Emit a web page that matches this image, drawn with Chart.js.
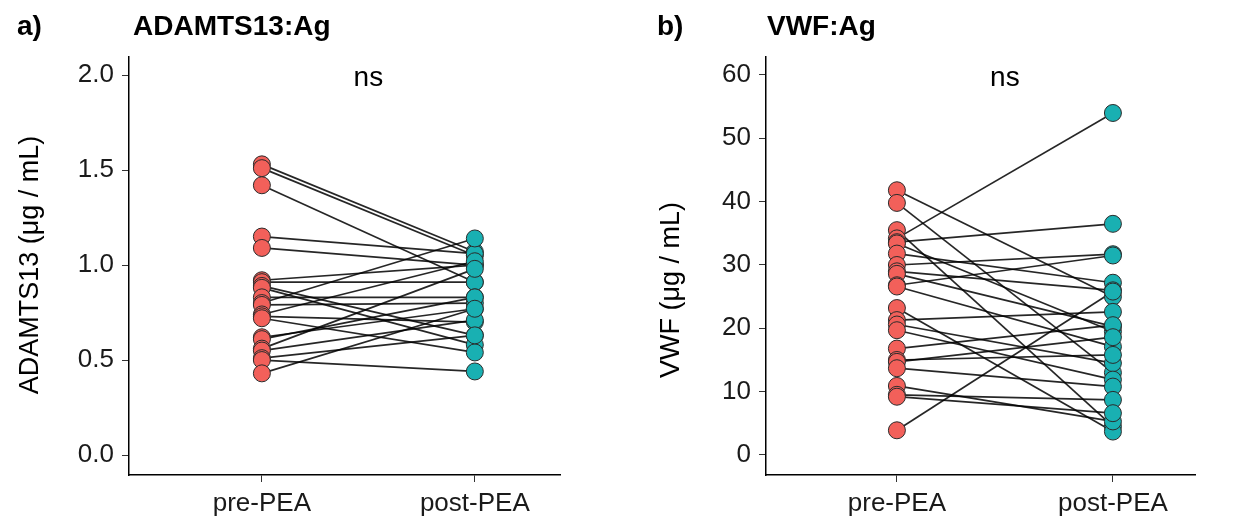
<!DOCTYPE html>
<html>
<head>
<meta charset="utf-8">
<title>ADAMTS13:Ag and VWF:Ag, pre- vs post-PEA</title>
<script src="https://cdn.jsdelivr.net/npm/chart.js@4.4.1/dist/chart.umd.min.js"></script>
<style>
    html, body { margin: 0; padding: 0; background: #fff; }
    #wrap { position: relative; width: 1247px; height: 528px; }
    #panelA { position: absolute; left: 0; top: 0; }
    #panelB { position: absolute; left: 620px; top: 0; }
</style>
</head>
<body>
<div id="wrap">
    <canvas id="panelA" width="620" height="528"></canvas>
    <canvas id="panelB" width="627" height="528"></canvas>
</div>
<script>
    // groups on the x axis
    var groups = ['pre-PEA', 'post-PEA'];

    // ADAMTS13 antigen (ug/mL), one entry per patient, paired
    var adamtsPre  = [1.53, 1.51, 1.42, 1.15, 1.09, 0.92, 0.91, 0.89, 0.88, 0.83, 0.80,
                      0.79, 0.74, 0.73, 0.72, 0.62, 0.61, 0.56, 0.55, 0.51, 0.50, 0.43];
    var adamtsPost = [1.07, 1.05, 0.91, 1.06, 1.00, 1.00, 0.91, 0.63, 0.58, 0.83, 1.14,
                      0.80, 1.02, 0.70, 0.54, 0.77, 0.83, 0.98, 0.71, 0.63, 0.44, 0.77];

    // VWF antigen (ug/mL), paired
    var vwfPre  = [41.8, 39.8, 35.5, 34.2, 33.6, 33.4, 31.8, 30.0, 29.0, 28.6, 26.8, 26.6,
                   23.2, 21.3, 20.6, 19.7, 16.8, 15.0, 14.7, 13.7, 10.9, 9.5, 9.2, 3.9];
    var vwfPost = [25.0, 13.0, 4.5, 54.0, 36.5, 19.5, 27.2, 31.7, 26.0, 20.3, 31.5, 17.1,
                   3.7, 22.6, 14.5, 11.9, 20.5, 15.8, 18.6, 10.8, 5.3, 8.7, 6.6, 25.8];

    var adamtsTicks = [0, 0.5, 1.0, 1.5, 2.0];
    var vwfTicks = [0, 10, 20, 30, 40, 50, 60];

    var FONT = '"Liberation Sans", Arial, sans-serif';
    var RED = '#F2605A';
    var TEAL = '#19B0B2';

    Chart.defaults.font.family = FONT;
    Chart.defaults.color = '#1a1a1a';

    // panel letter, bold title, rotated y title and the "ns" label
    var panelText = {
        id: 'panelText',
        afterDraw: function (chart, args, opts) {
            var ctx = chart.ctx;
            ctx.save();
            ctx.fillStyle = '#000';
            ctx.textBaseline = 'middle';
            ctx.textAlign = 'left';
            ctx.font = 'bold 28px ' + FONT;
            ctx.fillText(opts.tag, opts.tagX, 27);
            ctx.fillText(opts.title, chart.chartArea.left + opts.titleDx, 27);

            ctx.font = '28px ' + FONT;
            ctx.textAlign = 'center';
            ctx.fillText('ns', chart.scales.x.getPixelForValue(1.5),
                         chart.scales.y.getPixelForValue(opts.nsY));

            ctx.font = '27px ' + FONT;
            ctx.translate(opts.yTitleX, opts.yTitleY);
            ctx.rotate(-Math.PI / 2);
            ctx.fillText(opts.yTitle, 0, 0);
            ctx.restore();
        }
    };

    function buildPanel(canvasId, p) {
        var datasets = [
            {
                type: 'scatter',
                data: p.pre.map(function (v) { return { x: 1, y: v }; }),
                backgroundColor: RED,
                borderColor: '#2b2b2b',
                borderWidth: 1,
                pointRadius: 8.5,
                order: 0
            },
            {
                type: 'scatter',
                data: p.post.map(function (v) { return { x: 2, y: v }; }),
                backgroundColor: TEAL,
                borderColor: '#2b2b2b',
                borderWidth: 1,
                pointRadius: 8.5,
                order: 0
            }
        ];
        // one segment per patient
        p.pre.forEach(function (v, i) {
            datasets.push({
                type: 'line',
                data: [{ x: 1, y: v }, { x: 2, y: p.post[i] }],
                borderColor: 'rgba(0,0,0,0.85)',
                borderWidth: 1.7,
                pointRadius: 0,
                fill: false,
                order: 1
            });
        });

        return new Chart(document.getElementById(canvasId), {
            type: 'scatter',
            data: { datasets: datasets },
            plugins: [panelText],
            options: {
                responsive: false,
                animation: false,
                events: [],
                layout: { padding: { left: 0, top: 57, right: p.padRight, bottom: 0 } },
                plugins: {
                    legend: { display: false },
                    tooltip: { enabled: false },
                    panelText: {
                        tag: p.tag, tagX: p.tagX, title: p.title, titleDx: p.titleDx, nsY: p.nsY,
                        yTitle: p.yTitle, yTitleX: p.yTitleX, yTitleY: p.yTitleY
                    }
                },
                scales: {
                    x: {
                        type: 'linear',
                        min: p.xMin,
                        max: p.xMax,
                        afterBuildTicks: function (axis) {
                            axis.ticks = [{ value: 1 }, { value: 2 }];
                        },
                        afterFit: function (scale) { scale.height = 53; },
                        ticks: {
                            padding: 6,
                            color: '#1a1a1a',
                            font: { size: 26 },
                            callback: function (v) { return groups[v - 1]; }
                        },
                        grid: { drawOnChartArea: false, drawTicks: true, tickLength: 7, color: '#333', lineWidth: 1 },
                        border: { display: true, color: '#000', width: 1.5 }
                    },
                    y: {
                        type: 'linear',
                        min: p.yMin,
                        max: p.yMax,
                        afterBuildTicks: function (axis) {
                            axis.ticks = p.ticks.map(function (v) { return { value: v }; });
                        },
                        afterFit: function (scale) { scale.width = p.yWidth; },
                        ticks: {
                            padding: 8,
                            color: '#1a1a1a',
                            font: { size: 26 },
                            callback: p.tickFmt
                        },
                        grid: { drawOnChartArea: false, drawTicks: true, tickLength: 7, color: '#333', lineWidth: 1 },
                        border: { display: true, color: '#000', width: 1.5 }
                    }
                }
            }
        });
    }

    buildPanel('panelA', {
        pre: adamtsPre, post: adamtsPost, ticks: adamtsTicks,
        tickFmt: function (v) { return v.toFixed(1); },
        yMin: -0.105, yMax: 2.095, xMin: 0.376, xMax: 2.40,
        yWidth: 129, padRight: 60,
        yTitle: 'ADAMTS13 (μg / mL)', yTitleX: 31, yTitleY: 265,
        tag: 'a)', tagX: 17, title: 'ADAMTS13:Ag', titleDx: 4, nsY: 1.985
    });

    buildPanel('panelB', {
        pre: vwfPre, post: vwfPost, ticks: vwfTicks,
        tickFmt: function (v) { return String(v); },
        yMin: -3.16, yMax: 62.84, xMin: 0.394, xMax: 2.38,
        yWidth: 146, padRight: 52,
        yTitle: 'VWF (μg / mL)', yTitleX: 52, yTitleY: 290,
        tag: 'b)', tagX: 37, title: 'VWF:Ag', titleDx: 1, nsY: 59.5
    });
</script>
</body>
</html>
